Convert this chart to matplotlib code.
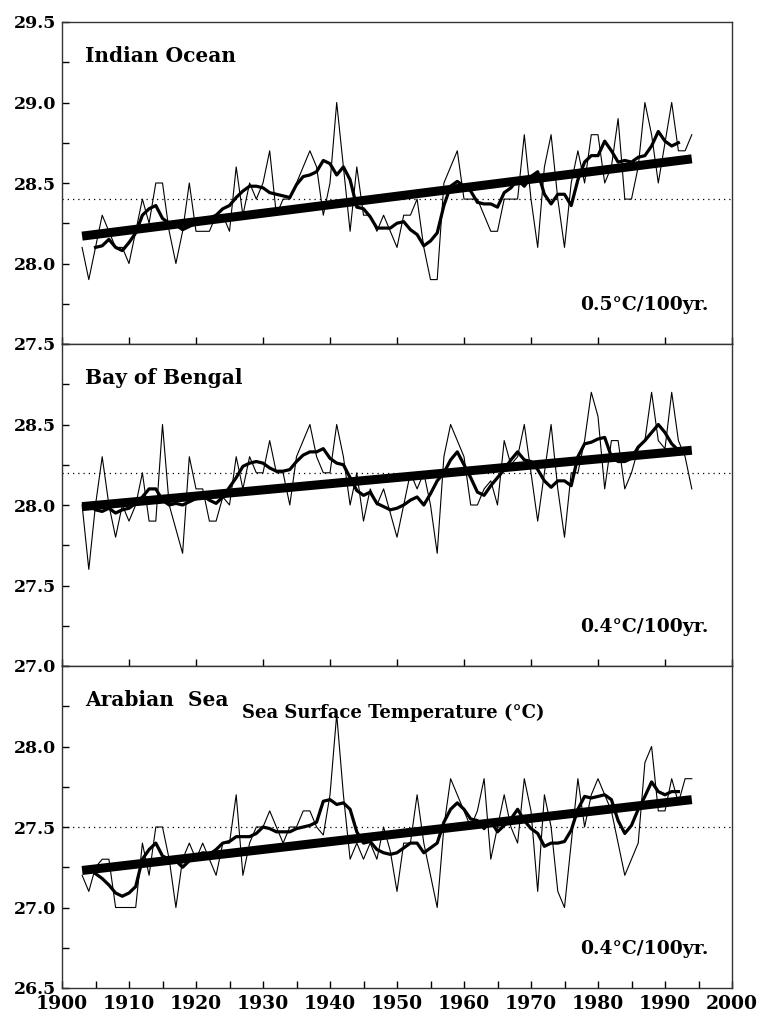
import matplotlib
matplotlib.use("Agg")
import matplotlib.pyplot as plt
from matplotlib.ticker import MultipleLocator, FixedLocator

years = list(range(1903, 1995))
smooth_years = list(range(1905, 1993))

indian_ocean = [28.1, 27.9, 28.1, 28.3, 28.2, 28.1, 28.1, 28.0, 28.2, 28.4,
                28.25, 28.5, 28.5, 28.2, 28.0, 28.2, 28.5, 28.2, 28.2, 28.2,
                28.3, 28.3, 28.2, 28.6, 28.3, 28.5, 28.4, 28.5, 28.7, 28.3,
                28.4, 28.4, 28.5, 28.6, 28.7, 28.6, 28.3, 28.5, 29.0, 28.6,
                28.2, 28.6, 28.3, 28.3, 28.2, 28.3, 28.2, 28.1, 28.3, 28.3,
                28.4, 28.1, 27.9, 27.9, 28.5, 28.6, 28.7, 28.4, 28.4, 28.4,
                28.3, 28.2, 28.2, 28.4, 28.4, 28.4, 28.8, 28.4, 28.1, 28.6,
                28.8, 28.4, 28.1, 28.5, 28.7, 28.5, 28.8, 28.8, 28.5, 28.6,
                28.9, 28.4, 28.4, 28.6, 29.0, 28.8, 28.5, 28.75, 29.0, 28.7,
                28.7, 28.8]
indian_ocean_smooth = [28.10, 28.11, 28.15, 28.10, 28.08, 28.13, 28.19, 28.30, 28.34, 28.36,
                       28.28, 28.25, 28.24, 28.21, 28.23, 28.25, 28.25, 28.28, 28.30, 28.34,
                       28.36, 28.41, 28.45, 28.48, 28.48, 28.47, 28.44, 28.43, 28.42, 28.41,
                       28.49, 28.54, 28.55, 28.57, 28.64, 28.62, 28.55, 28.60, 28.52, 28.35,
                       28.34, 28.29, 28.22, 28.22, 28.22, 28.25, 28.26, 28.21, 28.18, 28.11,
                       28.14, 28.19, 28.36, 28.48, 28.51, 28.48, 28.45, 28.38, 28.37, 28.37,
                       28.35, 28.44, 28.47, 28.52, 28.48, 28.54, 28.57, 28.43, 28.37, 28.43,
                       28.43, 28.36, 28.52, 28.63, 28.67, 28.67, 28.76, 28.70, 28.63, 28.64,
                       28.63, 28.66, 28.67, 28.73, 28.82, 28.76, 28.73, 28.75]

bay_of_bengal = [28.0, 27.6, 28.0, 28.3, 28.0, 27.8, 28.0, 27.9, 28.0, 28.2,
                 27.9, 27.9, 28.5, 28.0, 27.85, 27.7, 28.3, 28.1, 28.1, 27.9,
                 27.9, 28.05, 28.0, 28.3, 28.1, 28.3, 28.2, 28.2, 28.4, 28.2,
                 28.2, 28.0, 28.3, 28.4, 28.5, 28.3, 28.2, 28.2, 28.5, 28.3,
                 28.0, 28.2, 27.9, 28.1, 28.0, 28.1, 27.95, 27.8, 28.0, 28.2,
                 28.1, 28.2, 28.0, 27.7, 28.3, 28.5, 28.4, 28.3, 28.0, 28.0,
                 28.1, 28.15, 28.0, 28.4, 28.25, 28.3, 28.5, 28.2, 27.9, 28.2,
                 28.5, 28.1, 27.8, 28.2, 28.2, 28.4, 28.7, 28.55, 28.1, 28.4,
                 28.4, 28.1, 28.2, 28.35, 28.4, 28.7, 28.4, 28.35, 28.7, 28.4,
                 28.3, 28.1]
bay_of_bengal_smooth = [27.97, 27.96, 27.98, 27.95, 27.97, 27.98, 28.01, 28.05, 28.10, 28.10,
                        28.03, 28.00, 28.01, 28.00, 28.02, 28.04, 28.06, 28.03, 28.01, 28.05,
                        28.11, 28.17, 28.24, 28.26, 28.27, 28.26, 28.23, 28.21, 28.21, 28.22,
                        28.27, 28.31, 28.33, 28.33, 28.35, 28.29, 28.26, 28.25, 28.17, 28.09,
                        28.06, 28.08, 28.01, 27.99, 27.97, 27.98, 28.00, 28.03, 28.05, 28.00,
                        28.07, 28.15, 28.20, 28.28, 28.33, 28.25, 28.17, 28.08, 28.06, 28.12,
                        28.17, 28.22, 28.28, 28.33, 28.28, 28.27, 28.22, 28.15, 28.11, 28.15,
                        28.15, 28.12, 28.30, 28.38, 28.39, 28.41, 28.42, 28.30, 28.27, 28.27,
                        28.29, 28.36, 28.40, 28.45, 28.50, 28.45, 28.38, 28.34]

arabian_sea = [27.2, 27.1, 27.25, 27.3, 27.3, 27.0, 27.0, 27.0, 27.0, 27.4,
               27.2, 27.5, 27.5, 27.3, 27.0, 27.3, 27.4, 27.3, 27.4, 27.3,
               27.2, 27.4, 27.4, 27.7, 27.2, 27.4, 27.5, 27.5, 27.6, 27.5,
               27.4, 27.5, 27.5, 27.6, 27.6, 27.5, 27.45, 27.7, 28.2, 27.7,
               27.3, 27.4, 27.3, 27.4, 27.3, 27.5, 27.35, 27.1, 27.4, 27.4,
               27.7, 27.4, 27.2, 27.0, 27.5, 27.8, 27.7, 27.6, 27.5, 27.6,
               27.8, 27.3, 27.5, 27.7, 27.5, 27.4, 27.8, 27.6, 27.1, 27.7,
               27.5, 27.1, 27.0, 27.4, 27.8, 27.5, 27.7, 27.8, 27.7, 27.6,
               27.4, 27.2, 27.3, 27.4, 27.9, 28.0, 27.6, 27.6, 27.8, 27.65,
               27.8, 27.8]
arabian_sea_smooth = [27.21, 27.18, 27.14, 27.09, 27.07, 27.09, 27.13, 27.30, 27.36, 27.40,
                      27.32, 27.30, 27.29, 27.25, 27.29, 27.32, 27.34, 27.33, 27.36, 27.40,
                      27.41, 27.44, 27.44, 27.44, 27.46, 27.50, 27.49, 27.47, 27.47, 27.47,
                      27.49, 27.50, 27.51, 27.53, 27.66, 27.67, 27.64, 27.65, 27.61, 27.47,
                      27.40, 27.41, 27.36, 27.34, 27.33, 27.34, 27.37, 27.40, 27.40, 27.34,
                      27.37, 27.40, 27.53, 27.61, 27.65, 27.61, 27.55, 27.54, 27.49, 27.54,
                      27.47, 27.51, 27.55, 27.61, 27.54, 27.49, 27.46, 27.38, 27.40, 27.40,
                      27.41, 27.48, 27.61, 27.69, 27.68, 27.69, 27.70, 27.67, 27.54, 27.46,
                      27.51, 27.61, 27.69, 27.78, 27.72, 27.70, 27.72, 27.72]

panel_titles = ["Indian Ocean", "Bay of Bengal", "Arabian  Sea"]
trend_labels = ["0.5°C/100yr.", "0.4°C/100yr.", "0.4°C/100yr."]
trend_years = [1903, 1994]
trend_values = [[28.17, 28.65], [27.99, 28.34], [27.23, 27.67]]
mean_levels = [28.4, 28.2, 27.5]
y_limits = [(27.5, 29.5), (27.0, 29.0), (26.5, 28.5)]
x_tick_labels = ["1900", "1910", "1920", "1930", "1940", "1950",
                 "1960", "1970", "1980", "1990", "2000"]
y_label_text = "Sea Surface Temperature (°C)"

series = [indian_ocean, bay_of_bengal, arabian_sea]
smooths = [indian_ocean_smooth, bay_of_bengal_smooth, arabian_sea_smooth]

plt.rcParams["font.family"] = ["DejaVu Serif"]
plt.rcParams["font.weight"] = "bold"

fig = plt.figure(figsize=(7.61, 10.16), dpi=100)
left = 62 / 761
width = (732 - 62) / 761
top_px = 22
panel_h = (988 - 22) / 3

for i in range(3):
    y_top = top_px + i * panel_h
    bottom = 1 - (y_top + panel_h) / 1016
    ax = fig.add_axes([left, bottom, width, panel_h / 1016])
    ax.set_xlim(1900, 2000)
    ax.set_ylim(*y_limits[i])

    ax.axhline(mean_levels[i], color="black", lw=0.9, ls=(0, (1, 3.2)), zorder=1)
    ax.plot(years, series[i], color="black", lw=0.8, zorder=2)
    ax.plot(smooth_years, smooths[i], color="black", lw=2.3, zorder=3,
            solid_joinstyle="round")
    ax.plot(trend_years, trend_values[i], color="black", lw=6.5, zorder=4,
            solid_capstyle="butt")

    for sp in ax.spines.values():
        sp.set_linewidth(1.0)
        sp.set_color("#333333")

    lo, hi = y_limits[i]
    yt = [lo + 0.5 * k for k in range(5)]
    ax.yaxis.set_major_locator(FixedLocator(yt))
    ax.yaxis.set_minor_locator(MultipleLocator(0.25))
    ax.tick_params(axis="y", which="both", direction="in", length=5, width=1,
                   labelsize=12.5, pad=4, right=False)
    ylabs = []
    for t in yt:
        if i > 0 and abs(t - hi) < 1e-6:
            ylabs.append("")
        else:
            ylabs.append(f"{t:.1f}")
    ax.set_yticklabels(ylabs, fontweight="bold")

    ax.set_xticks(list(range(1900, 2001, 10)))
    if i < 2:
        ax.tick_params(axis="x", which="both", direction="in", length=5, width=1,
                       labelbottom=False, top=False)
    else:
        ax.xaxis.set_minor_locator(MultipleLocator(5))
        ax.tick_params(axis="x", which="both", direction="in", length=5, width=1,
                       labelsize=13.5, pad=5, top=False)
        ax.set_xticklabels(x_tick_labels, fontweight="bold")
        ax.text(0.268, 0.855, y_label_text, transform=ax.transAxes,
                fontsize=13, fontweight="bold", ha="left", va="center")

    ax.text(0.034, 0.895, panel_titles[i], transform=ax.transAxes,
            fontsize=14.5, fontweight="bold", ha="left", va="center")
    ax.text(0.965, 0.12, trend_labels[i], transform=ax.transAxes,
            fontsize=13.5, fontweight="bold", ha="right", va="center")

fig.savefig("out.png", dpi=100)
